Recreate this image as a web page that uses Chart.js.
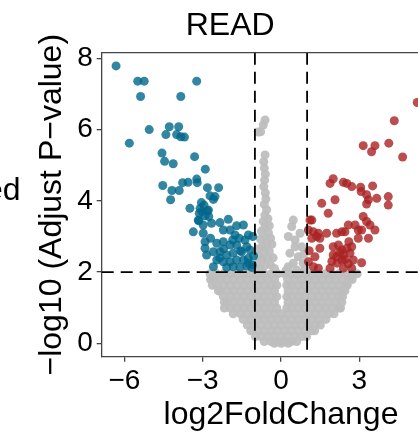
<!DOCTYPE html>
<html>
<head>
<meta charset="utf-8">
<script src="https://cdn.jsdelivr.net/npm/chart.js@4.4.1/dist/chart.umd.min.js"></script>
<style>
    html, body { margin: 0; padding: 0; overflow: hidden; background: #fff; }
    #wrap { position: relative; width: 418px; height: 435px; overflow: hidden; }
    #cut { position: absolute; left: -15px; top: 173px; font: 32px "Liberation Sans", Arial, sans-serif; line-height: 32px; color: #000; white-space: nowrap; }
    canvas { position: absolute; left: 0; top: 0; }
</style>
</head>
<body>
<div id="wrap">
    <canvas id="myChart" width="534" height="435"></canvas>
    <div id="cut">ed</div>
</div>
<script>
// thresholds
const fcCut = [-1, 1];
const pCut = 2;

const xTicks = [-6, -3, 0, 3, 6];
const yTicks = [0, 2, 4, 6, 8];

// down regulated (blue)
const downGenes = [
    [-6.32, 7.79], [-5.49, 7.36], [-5.24, 7.36], [-5.38, 6.93], [-3.23, 7.36], [-3.84, 6.93],
    [-5.05, 6.00], [-5.81, 5.62], [-4.28, 6.08], [-3.92, 6.08], [-4.41, 5.86], [-4.00, 5.86],
    [-3.84, 5.80], [-3.70, 5.79], [-4.56, 5.34], [-4.46, 5.11], [-4.13, 5.04], [-3.31, 5.24],
    [-2.90, 4.89], [-4.53, 4.43], [-4.18, 4.29], [-4.23, 4.03], [-3.90, 4.29], [-3.77, 4.51],
    [-3.56, 4.52], [-3.23, 4.61], [-3.21, 4.51], [-2.82, 4.37], [-2.39, 4.37], [-2.72, 4.14],
    [-2.59, 4.04], [-2.53, 4.12], [-3.49, 3.79], [-3.05, 3.95], [-3.10, 3.79], [-2.95, 3.88],
    [-3.13, 3.65], [-3.15, 3.44], [-2.82, 3.72], [-2.77, 3.56], [-3.36, 3.13], [-3.03, 3.70],
    [-2.78, 3.74], [-3.17, 3.46], [-2.91, 3.58], [-2.98, 3.32], [-2.66, 3.37], [-2.34, 3.39],
    [-2.02, 3.48], [-1.70, 3.30], [-1.44, 3.32], [-2.98, 3.09], [-2.21, 3.18], [-1.95, 3.18],
    [-1.76, 3.04], [-1.25, 3.04], [-1.38, 2.90], [-2.91, 2.85], [-2.91, 2.67], [-2.46, 2.81],
    [-2.21, 2.85], [-1.95, 2.76], [-1.70, 2.76], [-1.31, 2.71], [-2.85, 2.48], [-2.59, 2.57],
    [-2.34, 2.57], [-2.08, 2.48], [-1.83, 2.53], [-1.51, 2.57], [-1.19, 2.62], [-2.46, 2.34],
    [-2.21, 2.29], [-1.95, 2.29], [-1.70, 2.34], [-1.44, 2.34], [-1.25, 2.39], [-2.08, 2.13],
    [-1.83, 2.15], [-1.57, 2.13], [-1.31, 2.17], [-1.12, 2.13], [-2.59, 2.15], [-1.25, 2.25],
    [-1.08, 3.00], [-1.05, 2.45], [-1.10, 2.20], [-2.20, 2.65], [-1.60, 2.95], [-1.55, 2.60],
    [-2.70, 2.95], [-1.85, 2.90], [-2.35, 2.40]
];

// up regulated (red)
const upGenes = [
    [5.22, 6.76], [4.34, 6.25], [3.15, 5.55], [3.60, 5.55], [3.47, 5.38], [4.13, 5.62], [4.66, 5.23],
    [1.88, 4.49], [2.00, 4.62], [2.39, 4.52], [2.52, 4.49], [2.71, 4.40], [3.05, 4.38], [3.07, 4.26],
    [3.51, 4.42], [3.28, 4.17], [3.67, 4.07], [4.11, 4.12], [2.07, 4.03], [3.35, 4.03], [4.11, 3.88],
    [3.28, 3.91], [1.81, 3.65], [1.56, 3.93], [3.15, 3.56], [3.28, 3.42], [3.41, 3.32], [3.60, 3.18],
    [3.35, 2.95], [1.11, 3.46], [2.58, 3.32], [2.84, 3.32], [2.96, 3.18], [3.09, 3.18], [1.24, 3.13],
    [1.43, 3.09], [1.75, 3.09], [2.13, 3.09], [2.33, 3.13], [2.45, 3.13], [2.96, 2.95], [1.18, 2.95],
    [1.49, 2.95], [1.05, 3.18], [1.49, 2.67], [2.00, 2.71], [2.20, 2.76], [2.33, 2.62], [2.52, 2.67],
    [2.71, 2.71], [2.64, 2.53], [2.39, 2.48], [2.13, 2.43], [2.00, 2.48], [2.77, 2.34], [3.09, 2.26],
    [2.33, 2.34], [2.58, 2.23], [1.24, 2.15], [1.43, 2.11], [1.88, 2.11], [2.39, 2.11], [2.71, 2.11],
    [1.05, 2.29], [1.18, 3.46], [1.30, 2.43], [1.37, 3.00], [1.08, 2.60], [2.25, 2.55], [2.45, 2.35],
    [2.60, 2.85], [2.15, 2.25], [1.95, 2.30]
];

// not significant (grey)
const stableGenes = [
    // column left of zero
    [-0.61, 6.27], [-0.68, 6.13], [-0.78, 5.94], [-0.87, 5.93], [-0.61, 5.29], [-0.66, 5.10],
    [-0.64, 4.92], [-0.60, 4.75], [-0.63, 4.58], [-0.66, 4.40], [-0.60, 4.22], [-0.58, 4.05],
    [-0.64, 3.90], [-0.55, 3.75], [-0.62, 3.60], [-0.50, 3.50], [-0.68, 3.42], [-0.45, 3.30],
    [-0.62, 3.25], [-0.75, 3.15], [-0.48, 3.10], [-0.40, 2.95], [-0.60, 2.95], [-0.78, 2.92],
    [-0.35, 2.78], [-0.55, 2.75], [-0.72, 2.72], [-0.90, 2.65], [-0.45, 2.58], [-0.65, 2.55],
    [-0.85, 2.45], [-0.30, 2.40], [-0.52, 2.38], [-0.72, 2.35], [-0.92, 2.22], [-0.40, 2.20],
    [-0.62, 2.18], [-0.80, 2.10], [-0.25, 2.10],
    // group right of zero
    [0.47, 3.46], [0.41, 3.28], [0.73, 3.09], [0.28, 3.00], [0.54, 2.90], [0.54, 2.71], [0.79, 2.71],
    [0.34, 2.53], [0.66, 2.43], [0.88, 2.50], [0.47, 2.25], [0.85, 2.25], [0.28, 2.15], [0.60, 2.06],
    [0.20, 2.05], [0.92, 2.08],
    // body below the cut
    [-2.72, 1.95], [-2.46, 1.95], [-2.20, 1.95], [-1.94, 1.95], [-1.68, 1.95], [-1.42, 1.95], [-1.16, 1.95],
    [-0.90, 1.95], [-0.64, 1.95], [-0.38, 1.95], [-0.12, 1.95], [0.14, 1.95], [0.40, 1.95], [0.66, 1.95],
    [0.92, 1.95], [1.18, 1.95], [1.44, 1.95], [1.70, 1.95], [1.96, 1.95], [2.22, 1.95], [2.48, 1.95],
    [2.74, 1.95], [2.92, 1.95],
    [-2.70, 1.79], [-2.59, 1.79], [-2.33, 1.79], [-2.07, 1.79], [-1.81, 1.79], [-1.55, 1.79], [-1.29, 1.79],
    [-1.03, 1.79], [-0.77, 1.79], [-0.51, 1.79], [-0.24, 1.79], [0.25, 1.79], [0.53, 1.79], [0.79, 1.79],
    [1.05, 1.79], [1.31, 1.79], [1.57, 1.79], [1.83, 1.79], [2.09, 1.79], [2.35, 1.79], [2.61, 1.79], [2.73, 1.79],
    [-2.63, 1.63], [-2.46, 1.63], [-2.20, 1.63], [-1.94, 1.63], [-1.68, 1.63], [-1.42, 1.63], [-1.16, 1.63],
    [-0.90, 1.63], [-0.64, 1.63], [-0.38, 1.63], [-0.16, 1.63], [0.22, 1.63], [0.40, 1.63], [0.66, 1.63],
    [0.92, 1.63], [1.18, 1.63], [1.44, 1.63], [1.70, 1.63], [1.96, 1.63], [2.22, 1.63], [2.48, 1.63], [2.54, 1.63],
    [-2.40, 1.47], [-2.33, 1.47], [-2.07, 1.47], [-1.81, 1.47], [-1.55, 1.47], [-1.29, 1.47], [-1.03, 1.47],
    [-0.77, 1.47], [-0.51, 1.47], [-0.25, 1.47], [0.27, 1.47], [0.53, 1.47], [0.79, 1.47], [1.05, 1.47],
    [1.31, 1.47], [1.57, 1.47], [1.83, 1.47], [2.09, 1.47], [2.35, 1.47], [2.45, 1.47],
    [-2.21, 1.31], [-1.94, 1.31], [-1.68, 1.31], [-1.42, 1.31], [-1.16, 1.31], [-0.90, 1.31], [-0.64, 1.31],
    [-0.38, 1.31], [-0.16, 1.31], [0.22, 1.31], [0.40, 1.31], [0.66, 1.31], [0.92, 1.31], [1.18, 1.31],
    [1.44, 1.31], [1.70, 1.31], [1.96, 1.31], [2.22, 1.31], [2.36, 1.31],
    [-2.17, 1.15], [-2.07, 1.15], [-1.81, 1.15], [-1.55, 1.15], [-1.29, 1.15], [-1.03, 1.15], [-0.77, 1.15],
    [-0.51, 1.15], [-0.25, 1.15], [0.27, 1.15], [0.53, 1.15], [0.79, 1.15], [1.05, 1.15], [1.31, 1.15],
    [1.57, 1.15], [1.83, 1.15], [2.09, 1.15], [2.33, 1.15],
    [-2.17, 0.99], [-1.94, 0.99], [-1.68, 0.99], [-1.42, 0.99], [-1.16, 0.99], [-0.90, 0.99], [-0.64, 0.99],
    [-0.38, 0.99], [-0.16, 0.99], [0.22, 0.99], [0.40, 0.99], [0.66, 0.99], [0.92, 0.99], [1.18, 0.99],
    [1.44, 0.99], [1.70, 0.99], [1.96, 0.99], [2.22, 0.99], [2.28, 0.99],
    [-1.83, 0.83], [-1.55, 0.83], [-1.29, 0.83], [-1.03, 0.83], [-0.77, 0.83], [-0.51, 0.83], [-0.25, 0.83],
    [0.01, 0.83], [0.27, 0.83], [0.53, 0.83], [0.79, 0.83], [1.05, 0.83], [1.31, 0.83], [1.57, 0.83],
    [1.83, 0.83], [2.03, 0.83],
    [-1.45, 0.67], [-1.16, 0.67], [-0.90, 0.67], [-0.64, 0.67], [-0.38, 0.67], [-0.12, 0.67], [0.14, 0.67],
    [0.40, 0.67], [0.66, 0.67], [0.92, 0.67], [1.18, 0.67], [1.44, 0.67], [1.72, 0.67],
    [-1.29, 0.51], [-1.03, 0.51], [-0.77, 0.51], [-0.51, 0.51], [-0.25, 0.51], [0.01, 0.51], [0.27, 0.51],
    [0.53, 0.51], [0.79, 0.51], [1.05, 0.51], [1.31, 0.51], [1.51, 0.51],
    [-1.16, 0.35], [-0.90, 0.35], [-0.64, 0.35], [-0.38, 0.35], [-0.12, 0.35], [0.14, 0.35], [0.40, 0.35],
    [0.66, 0.35], [0.92, 0.35], [1.18, 0.35], [1.29, 0.35],
    [-0.98, 0.19], [-0.77, 0.19], [-0.51, 0.19], [-0.25, 0.19], [0.01, 0.19], [0.27, 0.19], [0.53, 0.19],
    [0.79, 0.19], [0.98, 0.19],
    [-0.64, 0.05], [-0.38, 0.05], [-0.12, 0.05], [0.14, 0.05], [0.40, 0.05], [0.60, 0.05],
    [-0.25, 0.00], [0.01, 0.00], [0.27, 0.00]
];

const FONT = '"Liberation Sans", Arial, sans-serif';
Chart.defaults.font.family = FONT;
Chart.defaults.color = '#000';

function toPoints(list) {
    return list.map(function(p) { return {x: p[0], y: p[1]}; });
}

function minusSign(v) {
    return String(v).replace('-', '\u2212');
}

// dashed cut-off lines and the panel frame
const guides = {
    id: 'guides',
    afterDatasetsDraw(chart) {
        let ctx = chart.ctx;
        let a = chart.chartArea;
        let x = chart.scales.x;
        let y = chart.scales.y;
        ctx.save();
        ctx.strokeStyle = '#000';
        ctx.lineWidth = 1.8;
        ctx.setLineDash([12, 7]);
        fcCut.forEach(function(v) {
            let px = x.getPixelForValue(v);
            ctx.beginPath();
            ctx.moveTo(px, a.top);
            ctx.lineTo(px, a.bottom);
            ctx.stroke();
        });
        let py = y.getPixelForValue(pCut);
        ctx.beginPath();
        ctx.moveTo(a.left, py);
        ctx.lineTo(a.right, py);
        ctx.stroke();
        ctx.setLineDash([]);
        ctx.strokeStyle = '#444';
        ctx.lineWidth = 1.3;
        ctx.beginPath();
        ctx.moveTo(a.left, a.top);
        ctx.lineTo(a.right, a.top);
        ctx.lineTo(a.right, a.bottom);
        ctx.stroke();
        ctx.restore();
    }
};

let ctx = document.getElementById('myChart').getContext('2d');
let volcano = new Chart(ctx, {
    type: 'scatter',
    data: {
        datasets: [{
            label: 'Down',
            data: toPoints(downGenes),
            backgroundColor: 'rgba(0, 104, 139, 0.8)',
            borderWidth: 0,
            pointRadius: 4.5
        }, {
            label: 'Up',
            data: toPoints(upGenes),
            backgroundColor: 'rgba(170, 34, 34, 0.8)',
            borderWidth: 0,
            pointRadius: 4.5
        }, {
            label: 'Stable',
            data: toPoints(stableGenes),
            backgroundColor: 'rgba(190, 190, 190, 0.95)',
            borderWidth: 0,
            pointRadius: 4.5
        }]
    },
    options: {
        responsive: false,
        animation: false,
        layout: { padding: { left: 0, right: 73.7, top: 0, bottom: 0 } },
        plugins: {
            legend: { display: false },
            tooltip: { enabled: false },
            title: {
                display: true,
                text: 'READ',
                color: '#000',
                font: { size: 32, weight: 'normal' },
                padding: { top: 7, bottom: 7.3 }
            }
        },
        scales: {
            x: {
                type: 'linear',
                min: -6.87,
                max: 6.87,
                afterFit: function(scale) { scale.height = 78.3; },
                afterBuildTicks: function(scale) { scale.ticks = xTicks.map(function(v) { return {value: v}; }); },
                grid: { display: true, drawOnChartArea: false, drawTicks: true, tickLength: 5, color: '#444', lineWidth: 1.3 },
                border: { display: true, color: '#444', width: 1.3 },
                ticks: { font: { size: 28 }, color: '#000', padding: 3, callback: minusSign },
                title: { display: true, text: 'log2FoldChange', font: { size: 32 }, color: '#000', padding: { top: 0, bottom: 1 } }
            },
            y: {
                type: 'linear',
                min: -0.377,
                max: 8.16,
                afterFit: function(scale) { scale.width = 101.7; },
                afterBuildTicks: function(scale) { scale.ticks = yTicks.map(function(v) { return {value: v}; }); },
                grid: { display: true, drawOnChartArea: false, drawTicks: true, tickLength: 5, color: '#444', lineWidth: 1.3 },
                border: { display: true, color: '#444', width: 1.3 },
                ticks: { font: { size: 28 }, color: '#000', padding: 4, callback: minusSign },
                title: { display: true, text: '\u2212log10 (Adjust P\u2212value)', font: { size: 32 }, color: '#000', padding: { top: 33, bottom: 0 } }
            }
        }
    },
    plugins: [guides]
});
</script>
</body>
</html>
